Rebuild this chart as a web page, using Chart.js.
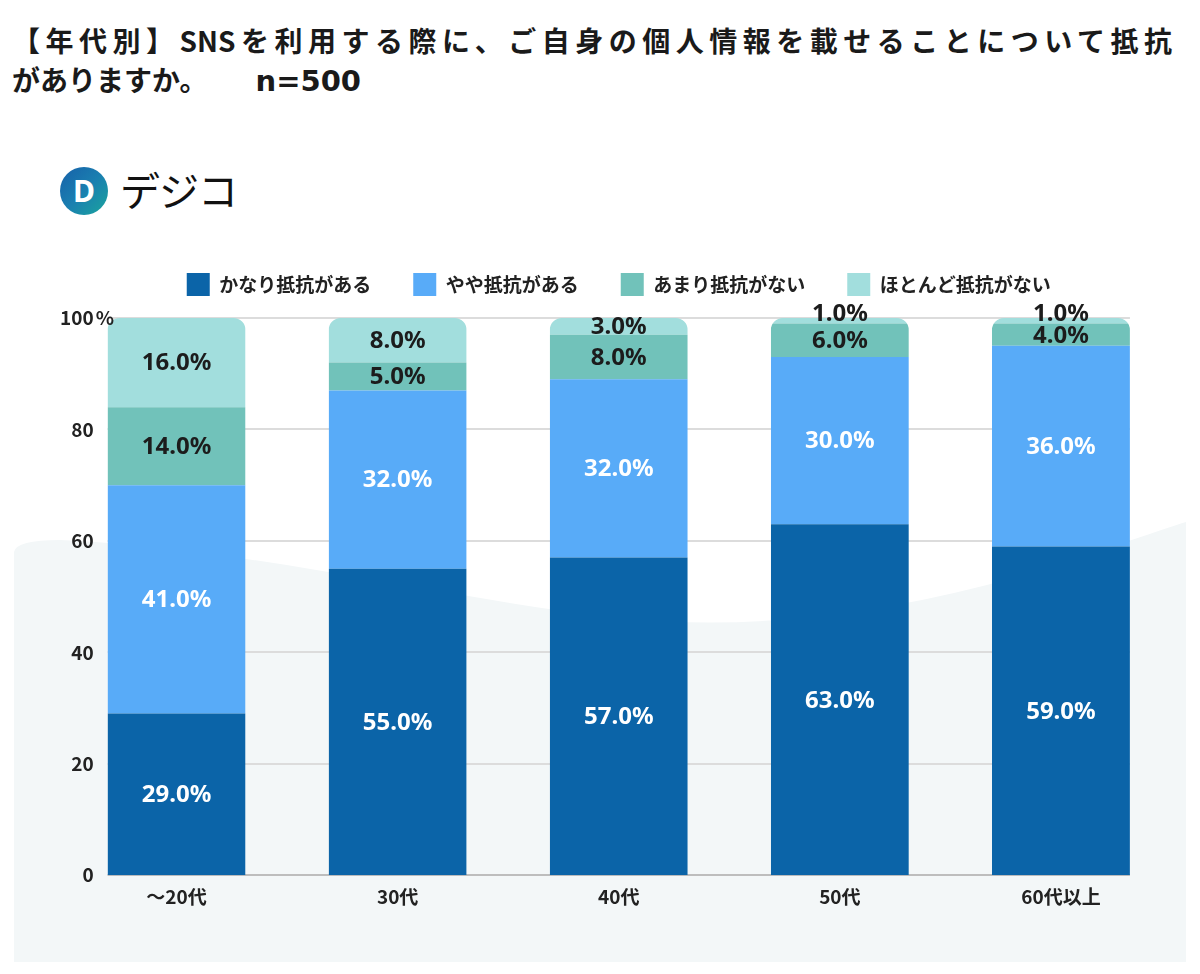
<!DOCTYPE html>
<html lang="ja">
<head>
<meta charset="utf-8">
<script src="https://cdn.jsdelivr.net/npm/chart.js@4.4.1/dist/chart.umd.min.js"></script>
<style>
  html, body { margin:0; padding:0; background:#fff; }
  body { width:1200px; height:974px; position:relative; overflow:hidden; }
  #bg { position:absolute; left:0; top:0; }
  #chart { position:absolute; left:0; top:0; }
  .title { position:absolute; left:12px; width:1160px; font-family:"Noto Sans CJK JP","Noto Sans",sans-serif; font-weight:700; font-size:28px; line-height:38px; color:#1a1a1a; white-space:pre; }
  #t1 { top:21px; text-align:justify; text-align-last:justify; white-space:normal; }
  #t2 { top:60px; }
  #t2 .n { font-family:"DejaVu Sans",sans-serif; font-weight:700; font-size:29px; margin-left:38px; }
  #logo { position:absolute; left:60px; top:167px; width:48px; height:48px; border-radius:50%; background:linear-gradient(135deg,#1760a9 0%,#1a7fb0 50%,#1aa59d 100%); color:#fff; font:700 30px "Noto Sans",sans-serif; text-align:center; line-height:48px; }
  #logotext { position:absolute; left:120px; top:164px; font-family:"Noto Sans CJK JP",sans-serif; font-weight:400; font-size:40px; line-height:50px; color:#111; letter-spacing:-1px; }
</style>
</head>
<body>
<svg id="bg" width="1200" height="974" viewBox="0 0 1200 974">
  <path d="M14,552 Q16,540 60,540 C250,548 450,600 620,618 C760,632 900,612 1040,570 C1110,548 1160,530 1186,522 L1186,962 L14,962 Z" fill="#f3f7f8"/>
</svg>
<div class="title" id="t1">【年代別】SNSを利用する際に、ご自身の個人情報を載せることについて抵抗</div>
<div class="title" id="t2">がありますか。<span class="n"> n=500</span></div>
<div id="logo">D</div>
<div id="logotext">デジコ</div>
<canvas id="chart" width="1200" height="974"></canvas>
<script>
const categories = ["～20代", "30代", "40代", "50代", "60代以上"];
const seriesNames = ["かなり抵抗がある", "やや抵抗がある", "あまり抵抗がない", "ほとんど抵抗がない"];
const kanari = [29, 55, 57, 63, 59];
const yaya = [41, 32, 32, 30, 36];
const amari = [14, 5, 8, 6, 4];
const hotondo = [16, 8, 3, 1, 1];
const yTicks = [0, 20, 40, 60, 80, 100];
const colors = ["#0b64a8", "#58abf8", "#71c2ba", "#a2dedd"];
const labelColors = ["#ffffff", "#ffffff", "#1c1c1c", "#1c1c1c"];

const seriesValues = [kanari, yaya, amari, hotondo];
const TICK_FONT = { family: '"Noto Sans CJK JP", "Noto Sans", sans-serif', size: 19, weight: '700' };
const LEGEND_TOP = 231;
const PLOT_TOP = 318;

const stackPlugin = {
  id: 'stackDecor',
  beforeInit(chart) {
    const lg = chart.legend;
    if (lg) {
      const origFit = lg.fit.bind(lg);
      lg.fit = function () { origFit(); this.height = PLOT_TOP - LEGEND_TOP; };
    }
  },
  beforeDatasetsDraw(chart) {
    const ctx = chart.ctx;
    const y = chart.scales.y;
    const meta0 = chart.getDatasetMeta(0);
    const els = meta0.data;
    if (!els.length) return;
    const first = els[0], last = els[els.length - 1];
    const x0 = first.x - first.width / 2;
    const x1 = last.x + last.width / 2;
    ctx.save();
    yTicks.forEach(v => {
      const py = Math.round(y.getPixelForValue(v));
      ctx.beginPath();
      ctx.strokeStyle = v === 0 ? '#bdbdbd' : '#dcdcdc';
      ctx.lineWidth = 2;
      ctx.moveTo(x0, py);
      ctx.lineTo(x1, py);
      ctx.stroke();
    });
    ctx.restore();
    ctx.save();
    ctx.beginPath();
    els.forEach((el, i) => {
      let total = 0;
      seriesValues.forEach(s => total += s[i]);
      const top = y.getPixelForValue(total);
      const bottom = y.getPixelForValue(0);
      const left = el.x - el.width / 2;
      ctx.roundRect(left, top, el.width, bottom - top, [12, 12, 0, 0]);
    });
    ctx.clip();
  },
  afterDatasetsDraw(chart) {
    const ctx = chart.ctx;
    ctx.restore();
    ctx.save();
    ctx.font = '700 24px "Noto Sans", sans-serif';
    ctx.textAlign = 'center';
    ctx.textBaseline = 'middle';
    chart.data.datasets.forEach((ds, di) => {
      const meta = chart.getDatasetMeta(di);
      meta.data.forEach((el, i) => {
        const v = ds.data[i];
        const h = Math.abs(el.base - el.y);
        let cy = (el.y + el.base) / 2;
        if (h < 10) cy = el.y - 5;
        ctx.fillStyle = labelColors[di];
        ctx.fillText(v.toFixed(1) + '%', el.x, cy + 1);
      });
    });
    ctx.restore();
  },
  afterDraw(chart) {
    const ctx = chart.ctx;
    const y = chart.scales.y;
    ctx.save();
    ctx.font = `${TICK_FONT.weight} ${TICK_FONT.size}px ${TICK_FONT.family}`;
    const w = ctx.measureText('100').width;
    const x = y.right + y.options.ticks.padding + w;
    ctx.fillStyle = '#222';
    ctx.textAlign = 'left';
    ctx.textBaseline = 'middle';
    ctx.fillText('%', x + 2, y.getPixelForValue(100));
    ctx.restore();
  }
};

new Chart(document.getElementById('chart'), {
  type: 'bar',
  data: {
    labels: categories,
    datasets: seriesNames.map((name, i) => ({
      label: name,
      data: seriesValues[i],
      backgroundColor: colors[i],
      borderWidth: 0,
      borderRadius: 0,
      categoryPercentage: 1.0,
      barPercentage: 0.624
    }))
  },
  options: {
    responsive: false,
    animation: false,
    devicePixelRatio: 1,
    layout: { padding: { top: LEGEND_TOP, left: 66, right: 28.5, bottom: 56 } },
    scales: {
      x: {
        stacked: true,
        grid: { display: false, drawTicks: false },
        border: { display: false },
        ticks: { color: '#222', font: TICK_FONT, padding: 10, maxRotation: 0 }
      },
      y: {
        stacked: true,
        min: 0, max: 100,
        afterBuildTicks(scale) { scale.ticks = yTicks.map(v => ({ value: v })); },
        grid: { display: false, drawTicks: false },
        border: { display: false },
        ticks: { mirror: true, crossAlign: 'far', padding: -2, color: '#222', font: TICK_FONT }
      }
    },
    plugins: {
      legend: {
        position: 'top',
        labels: {
          boxWidth: 23, boxHeight: 23, padding: 42,
          color: '#222',
          font: { family: '"Noto Sans CJK JP", sans-serif', size: 19, weight: '700' }
        }
      },
      tooltip: { enabled: false }
    }
  },
  plugins: [stackPlugin]
});
</script>
</body>
</html>
